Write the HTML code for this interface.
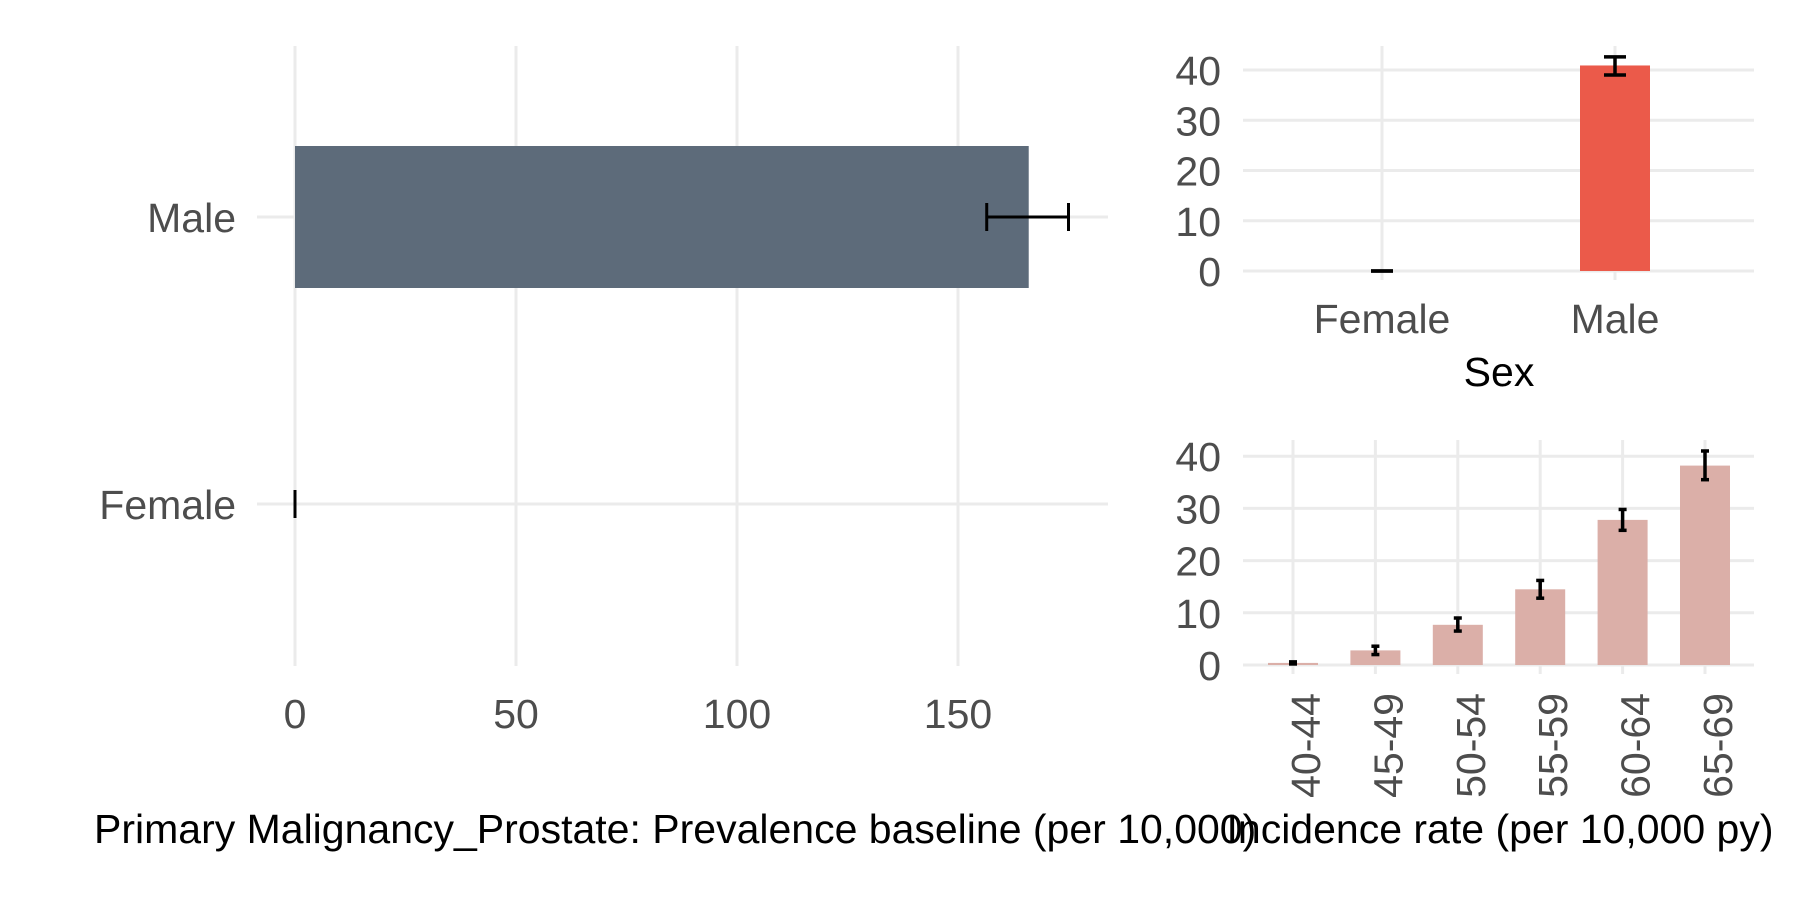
<!DOCTYPE html>
<html><head><meta charset="utf-8"><style>
html,body{margin:0;padding:0;background:#fff}
svg{display:block;font-family:"Liberation Sans",sans-serif}
.tick{fill:#4d4d4d;font-size:41px}
.title{fill:#000;font-size:41px}
.grid{stroke:#ebebeb;stroke-width:3}
</style></head><body>
<svg id="chart" width="1800" height="900" viewBox="0 0 1800 900">
<g id="left"></g>
<g id="topr"></g>
<g id="botr"></g>
<text class="title" x="94" y="843">Primary Malignancy_Prostate: Prevalence baseline (per 10,000)</text>
<text class="title" x="1500" y="843" text-anchor="middle">Incidence rate (per 10,000 py)</text>
</svg>
<script>
const prevCats = ["Female","Male"];
const prevVals = [0, 166];
const prevLo = [0, 156.5];
const prevHi = [0, 175];
const prevTicks = [0,50,100,150];

const sexCats = ["Female","Male"];
const sexVals = [0, 40.9];
const sexLo = [0, 39.0];
const sexHi = [0, 42.6];
const sexTicks = [0,10,20,30,40];

const ageCats = ["40-44","45-49","50-54","55-59","60-64","65-69"];
const ageVals = [0.4, 2.8, 7.7, 14.5, 27.8, 38.2];
const ageLo = [0.2, 2.0, 6.5, 12.8, 25.8, 35.5];
const ageHi = [0.6, 3.6, 9.0, 16.2, 29.8, 41.0];
const ageTicks = [0,10,20,30,40];

const NS="http://www.w3.org/2000/svg";
function mk(parent, tag, attrs, text){
  const e=document.createElementNS(NS,tag);
  for(const k in attrs) e.setAttribute(k,attrs[k]);
  if(text!==undefined) e.textContent=text;
  parent.appendChild(e); return e;
}

// LEFT PANEL
(function(){
  const g=document.getElementById('left');
  const x=v=>295+v*4.42;
  const yc={"Female":504,"Male":217};
  for(const t of prevTicks){
    const l=mk(g,'line',{x1:x(t),x2:x(t),y1:46,y2:666,class:'grid'});
    
    
    const tx=mk(g,'text',{x:x(t),y:728,class:'tick','text-anchor':'middle'},String(t));
    
    
  }
  prevCats.forEach((c,i)=>{
    const y=yc[c];
    const l=mk(g,'line',{x1:257,x2:1108,y1:y,y2:y,class:'grid'});
    
    
    const t=mk(g,'text',{x:236,y:y+15,class:'tick','text-anchor':'end'},c);
    
    
    if(prevVals[i]>0){
      const r=mk(g,'rect',{x:x(0),y:y-71,width:x(prevVals[i])-x(0),height:142,fill:'#5d6b7a'});
      
      
    }
    const eb=mk(g,'g',{stroke:'#000','stroke-width':3,fill:'none'});
    
    
    mk(eb,'line',{x1:x(prevLo[i]),x2:x(prevHi[i]),y1:y,y2:y});
    mk(eb,'line',{x1:x(prevLo[i]),x2:x(prevLo[i]),y1:y-14,y2:y+14});
    mk(eb,'line',{x1:x(prevHi[i]),x2:x(prevHi[i]),y1:y-14,y2:y+14});
  });
})();

// TOP RIGHT
(function(){
  const g=document.getElementById('topr');
  const y=v=>271-v*5.025;
  const xc=[1382,1615];
  for(const t of sexTicks){
    const l=mk(g,'line',{x1:1243,x2:1754,y1:y(t),y2:y(t),class:'grid'});
    
    
    const tx=mk(g,'text',{x:1221,y:y(t)+15,class:'tick','text-anchor':'end'},String(t));
    
    
  }
  sexCats.forEach((c,i)=>{
    const l=mk(g,'line',{x1:xc[i],x2:xc[i],y1:46,y2:280,class:'grid'});
    
    
    const t=mk(g,'text',{x:xc[i],y:333,class:'tick','text-anchor':'middle'},c);
    
    
    if(sexVals[i]>0){
      const r=mk(g,'rect',{x:xc[i]-35,y:y(sexVals[i]),width:70,height:y(0)-y(sexVals[i]),fill:'#eb5a4a'});
      
      
    }
    const eb=mk(g,'g',{stroke:'#000','stroke-width':3.5,fill:'none'});
    
    
    mk(eb,'line',{x1:xc[i],x2:xc[i],y1:y(sexLo[i]),y2:y(sexHi[i])});
    mk(eb,'line',{x1:xc[i]-11,x2:xc[i]+11,y1:y(sexLo[i]),y2:y(sexLo[i])});
    mk(eb,'line',{x1:xc[i]-11,x2:xc[i]+11,y1:y(sexHi[i]),y2:y(sexHi[i])});
  });
  const st=mk(g,'text',{x:1499,y:386,class:'title','text-anchor':'middle'},'Sex');
  
  
})();

// BOTTOM RIGHT
(function(){
  const g=document.getElementById('botr');
  const y=v=>665-v*5.22;
  const x=i=>1293+i*82.4;
  for(const t of ageTicks){
    const l=mk(g,'line',{x1:1243,x2:1754,y1:y(t),y2:y(t),class:'grid'});
    
    
    const tx=mk(g,'text',{x:1221,y:y(t)+15,class:'tick','text-anchor':'end'},String(t));
    
    
  }
  ageCats.forEach((c,i)=>{
    const cx=x(i);
    const l=mk(g,'line',{x1:cx,x2:cx,y1:440,y2:674,class:'grid'});
    
    
    const t=mk(g,'text',{x:0,y:0,class:'tick','text-anchor':'end',transform:`translate(${cx+27},693) rotate(-90)`},c);
    
    
    const r=mk(g,'rect',{x:cx-25,y:y(ageVals[i]),width:50,height:y(0)-y(ageVals[i]),fill:'#dbafa8'});
    
    
    const eb=mk(g,'g',{stroke:'#000','stroke-width':3.5,fill:'none'});
    
    
    mk(eb,'line',{x1:cx,x2:cx,y1:y(ageLo[i]),y2:y(ageHi[i])});
    mk(eb,'line',{x1:cx-4,x2:cx+4,y1:y(ageLo[i]),y2:y(ageLo[i])});
    mk(eb,'line',{x1:cx-4,x2:cx+4,y1:y(ageHi[i]),y2:y(ageHi[i])});
  });
})();
</script>
</body></html>
